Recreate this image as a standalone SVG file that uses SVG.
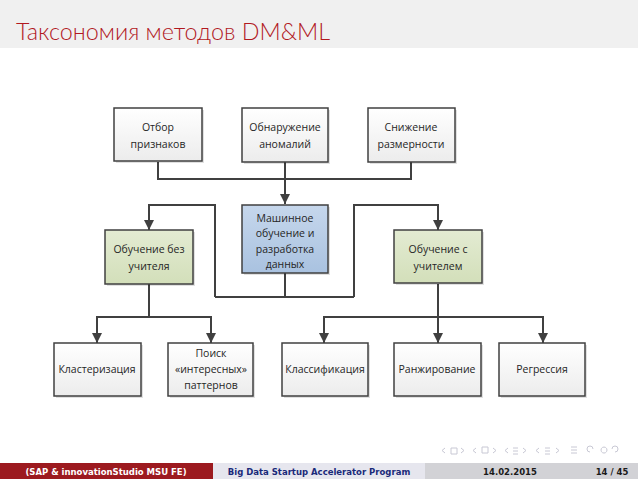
<svg xmlns="http://www.w3.org/2000/svg" width="638" height="479" viewBox="0 0 638 479">
<defs>
<linearGradient id="gw" x1="0" y1="0" x2="0" y2="1"><stop offset="0" stop-color="#ffffff"/><stop offset="1" stop-color="#ececec"/></linearGradient>
<linearGradient id="gb" x1="0" y1="0" x2="0" y2="1"><stop offset="0" stop-color="#c6d7ec"/><stop offset="1" stop-color="#a9c2e0"/></linearGradient>
<linearGradient id="gg" x1="0" y1="0" x2="0" y2="1"><stop offset="0" stop-color="#e3ebd2"/><stop offset="1" stop-color="#d3dfba"/></linearGradient>
<marker id="ah" viewBox="0 0 10 10" refX="10" refY="5" markerWidth="5" markerHeight="5" orient="auto" markerUnits="strokeWidth"><path d="M0,0 L10,5 L0,10 z" fill="#404040"/></marker>
</defs>
<style>
.box{stroke:#404040;stroke-width:1.5}
.w{fill:url(#gw)}
.b{fill:url(#gb)}
.g{fill:url(#gg)}
.sh{fill:#000;opacity:0.12}
.t{font-family:"Open Sans","Liberation Sans",sans-serif;font-size:10.5px;fill:#262626;text-anchor:middle}
.c{fill:none;stroke:#404040;stroke-width:2}
.ca{fill:none;stroke:#404040;stroke-width:2;marker-end:url(#ah)}
.ft{font-family:"DejaVu Sans","Liberation Sans",sans-serif;font-size:8.5px;font-weight:bold}
.nav{fill:none;stroke:#c8c8d4;stroke-width:1}
</style>
<rect x="0" y="0" width="638" height="479" fill="#ffffff"/>
<rect x="0" y="0" width="638" height="48" fill="#f0f0f0"/>
<text x="16" y="40" font-family="Lato, 'Open Sans', sans-serif" font-weight="300" font-size="23" fill="#b2191f" textLength="314" lengthAdjust="spacingAndGlyphs">Таксономия методов DM&amp;ML</text>

<g id="connectors">
<polyline class="c" points="158,162 158,179 411,179 411,162"/>
<line class="ca" x1="285" y1="162" x2="285" y2="204"/>
<polyline class="c" points="285,273 285,297"/>
<polyline class="c" points="215,297 354,297"/>
<polyline class="ca" points="215,297 215,205 149,205 149,230"/>
<polyline class="ca" points="354,297 354,205 438,205 438,230"/>
<polyline class="c" points="149,284 149,317"/>
<polyline class="ca" points="149,317 97,317 97,343"/>
<polyline class="ca" points="149,317 211,317 211,343"/>
<polyline class="c" points="438,284 438,317"/>
<polyline class="ca" points="438,317 324,317 324,343"/>
<line class="ca" x1="438" y1="317" x2="438" y2="343"/>
<polyline class="ca" points="438,317 543,317 543,343"/>
</g>

<g id="n_otbor"><rect class="sh" x="116" y="110" width="88" height="53"/><rect class="box w" x="114" y="108" width="88" height="53"/><text class="t" x="158" y="131">Отбор</text><text class="t" x="158" y="148">признаков</text></g>
<g id="n_obnar"><rect class="sh" x="244" y="110" width="86" height="54"/><rect class="box w" x="242" y="108" width="86" height="54"/><text class="t" x="285" y="131">Обнаружение</text><text class="t" x="285" y="148">аномалий</text></g>
<g id="n_snizh"><rect class="sh" x="370" y="110" width="87" height="54"/><rect class="box w" x="368" y="108" width="87" height="54"/><text class="t" x="411" y="131">Снижение</text><text class="t" x="411" y="148">размерности</text></g>

<g id="n_ml"><rect class="sh" x="244" y="207" width="86" height="68"/><rect class="box b" x="242" y="205" width="86" height="68"/><text class="t" x="285" y="222">Машинное</text><text class="t" x="285" y="237">обучение и</text><text class="t" x="285" y="253">разработка</text><text class="t" x="285" y="268">данных</text></g>
<g id="n_unsup"><rect class="sh" x="107" y="232" width="88" height="54"/><rect class="box g" x="105" y="230" width="88" height="54"/><text class="t" x="149" y="253">Обучение без</text><text class="t" x="149" y="270">учителя</text></g>
<g id="n_sup"><rect class="sh" x="396" y="232" width="88" height="53"/><rect class="box g" x="394" y="230" width="88" height="53"/><text class="t" x="438" y="253">Обучение с</text><text class="t" x="438" y="270">учителем</text></g>

<g id="n_clust"><rect class="sh" x="56" y="345" width="87" height="53"/><rect class="box w" x="54" y="343" width="87" height="53"/><text class="t" x="97" y="373">Кластеризация</text></g>
<g id="n_search"><rect class="sh" x="170" y="345" width="85" height="53"/><rect class="box w" x="168" y="343" width="85" height="53"/><text class="t" x="211" y="357">Поиск</text><text class="t" x="211" y="373">«интересных»</text><text class="t" x="211" y="389">паттернов</text></g>
<g id="n_class"><rect class="sh" x="284" y="345" width="86" height="53"/><rect class="box w" x="282" y="343" width="86" height="53"/><text class="t" x="325" y="373">Классификация</text></g>
<g id="n_rank"><rect class="sh" x="396" y="345" width="87" height="53"/><rect class="box w" x="394" y="343" width="87" height="53"/><text class="t" x="437" y="373">Ранжирование</text></g>
<g id="n_regr"><rect class="sh" x="501" y="345" width="86" height="53"/><rect class="box w" x="499" y="343" width="86" height="53"/><text class="t" x="542" y="373">Регрессия</text></g>

<g id="navigation">
<path class="nav" d="M445,453 l-3,-2.5 l3,-2.5 M451,448 h6 v6 h-6 z M461,448 l3,2.5 l-3,2.5 M476,453 l-3,-2.5 l3,-2.5 M482,447 h6 v6 h-6 z M493,448 l3,2.5 l-3,2.5 M508,453 l-3,-2.5 l3,-2.5 M513,448 h5 M513,451 h5 M513,454 h5 M523,448 l3,2.5 l-3,2.5 M539,453 l-3,-2.5 l3,-2.5 M545,448 h5 M545,451 h5 M545,454 h5 M556,448 l3,2.5 l-3,2.5 M571,447 h6 M571,450 h6 M571,453 h6 M590,452 a3,3 0 1 1 3,-3 M601,450 a3,3 0 1 1 0,0.1 M615,452 a3,3 0 1 0 -3,-3"/>
</g>

<g id="footer">
<rect x="0" y="463" width="213" height="16" fill="#9c1a1f"/>
<rect x="213" y="463" width="212" height="16" fill="#e6e6ee"/>
<rect x="425" y="463" width="213" height="16" fill="#d2d2d6"/>
<text class="ft" x="106" y="474.5" fill="#ffffff" text-anchor="middle">(SAP &amp; innovationStudio MSU FE)</text>
<text class="ft" x="319" y="474.5" fill="#1a2a7a" text-anchor="middle">Big Data Startup Accelerator Program</text>
<text class="ft" x="510" y="474.5" fill="#1a1a1a" text-anchor="middle">14.02.2015</text>
<text class="ft" x="612" y="474.5" fill="#1a1a1a" text-anchor="middle">14 / 45</text>
</g>
</svg>
